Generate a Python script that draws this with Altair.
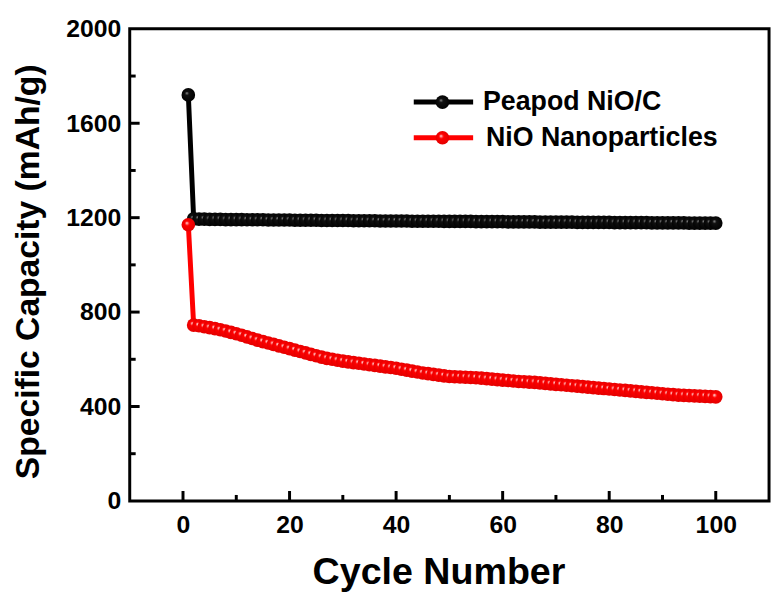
import altair as alt
import pandas as pd

cycles = list(range(1, 101))

peapod = [1720, 1195,
          1194, 1194, 1193, 1193, 1193, 1192, 1192, 1192,
          1192, 1191, 1191, 1191, 1191, 1190, 1190, 1190, 1190, 1190,
          1189, 1189, 1189, 1189, 1189, 1188, 1188, 1188, 1188, 1188,
          1188, 1187, 1187, 1187, 1187, 1187, 1186, 1186, 1186, 1186,
          1186, 1186, 1185, 1185, 1185, 1185, 1185, 1185, 1184, 1184,
          1184, 1184, 1184, 1184, 1183, 1183, 1183, 1183, 1183, 1183,
          1182, 1182, 1182, 1182, 1182, 1182, 1181, 1181, 1181, 1181,
          1181, 1181, 1181, 1180, 1180, 1180, 1180, 1180, 1180, 1180,
          1179, 1179, 1179, 1179, 1179, 1179, 1179, 1178, 1178, 1178,
          1178, 1178, 1178, 1178, 1177, 1177, 1177, 1177, 1177, 1177]

nano = [1170, 745,
        742, 738, 734, 730, 725, 720, 714, 708,
        702, 695, 688, 681, 675, 669, 663, 657, 651, 645,
        639, 633, 627, 621, 615, 609, 604, 600, 596, 592,
        589, 586, 583, 580, 577, 574, 571, 568, 565, 562,
        558, 554, 550, 546, 542, 539, 536, 533, 530, 527,
        526, 525, 524, 523, 522, 520, 518, 516, 514, 512,
        510, 508, 506, 505, 503, 502, 500, 498, 496, 494,
        492, 490, 488, 486, 484, 482, 480, 478, 476, 474,
        472, 470, 468, 466, 464, 462, 460, 458, 456, 454,
        452, 450, 448, 447, 446, 445, 444, 443, 442, 441]

series_names = ["Peapod NiO/C", "NiO Nanoparticles"]
x_major = [0, 20, 40, 60, 80, 100]
x_minor = [10, 30, 50, 70, 90]
y_major = [0, 400, 800, 1200, 1600, 2000]
y_minor = [200, 600, 1000, 1400, 1800]

W, H = 646, 477
FONT = "Liberation Sans"

df_black = pd.DataFrame({"cycle": cycles, "cap": peapod})
df_red = pd.DataFrame({"cycle": cycles, "cap": nano})

xscale = alt.Scale(domain=[-10, 110], nice=False, zero=False)
yscale = alt.Scale(domain=[0, 2000], nice=False)

X = alt.X("cycle:Q", scale=xscale,
          axis=alt.Axis(values=x_major, format="d", title="Cycle Number", ticks=False,
                        grid=False, domain=False, labelPadding=12, titlePadding=16,
                        titleFontSize=38, titleX=312))
Y = alt.Y("cap:Q", scale=yscale,
          axis=alt.Axis(values=y_major, format="d", title="Specific Capacity (mAh/g)",
                        ticks=False, grid=False, domain=False, labelPadding=9,
                        titlePadding=21, titleFontSize=34, titleY=245))


def sphere(c_hi, c_mid, c_edge, mid_off):
    return {"gradient": "radial", "x1": 0.38, "y1": 0.36, "r1": 0,
            "x2": 0.5, "y2": 0.5, "r2": 0.55,
            "stops": [{"offset": 0, "color": c_hi},
                      {"offset": mid_off, "color": c_mid},
                      {"offset": 1, "color": c_edge}]}


black_fill = sphere("#9a9a9a", "#111111", "#000000", 0.25)
red_fill = sphere("#fff0f0", "#ff0000", "#e00000", 0.3)

MS = 190

black_line = alt.Chart(df_black).mark_line(color="black", strokeWidth=5).encode(x=X, y=Y)
black_pts = alt.Chart(df_black).mark_circle(size=MS, opacity=1, fill=black_fill).encode(
    x="cycle:Q", y="cap:Q")
red_line = alt.Chart(df_red).mark_line(color="#ff0000", strokeWidth=5).encode(x="cycle:Q", y="cap:Q")
red_pts = alt.Chart(df_red).mark_circle(size=MS, opacity=1, fill=red_fill).encode(
    x="cycle:Q", y="cap:Q")

# inward ticks
dxM = pd.DataFrame({"v": x_major})
dxm = pd.DataFrame({"v": x_minor})
dyM = pd.DataFrame({"v": y_major[1:-1]})
dym = pd.DataFrame({"v": y_minor})
tick_style = dict(color="black", strokeWidth=3)
xt1 = alt.Chart(dxM).mark_rule(**tick_style).encode(x="v:Q", y=alt.value(H - 10), y2=alt.value(H))
xt2 = alt.Chart(dxm).mark_rule(**tick_style).encode(x="v:Q", y=alt.value(H - 6), y2=alt.value(H))
yt1 = alt.Chart(dyM).mark_rule(**tick_style).encode(y="v:Q", x=alt.value(0), x2=alt.value(10))
yt2 = alt.Chart(dym).mark_rule(**tick_style).encode(y="v:Q", x=alt.value(0), x2=alt.value(6))

# legend
leg_black = pd.DataFrame({"label": [series_names[0]]})
leg_red = pd.DataFrame({"label": [series_names[1]]})
lb_y, lr_y = 74, 110
lx1, lx2, lxm, ltx = 287, 347, 316, 357
leg = [
    alt.Chart(leg_black).mark_rule(color="black", strokeWidth=5).encode(
        x=alt.value(lx1), x2=alt.value(lx2), y=alt.value(lb_y)),
    alt.Chart(leg_black).mark_circle(size=MS, opacity=1, fill=black_fill).encode(
        x=alt.value(lxm), y=alt.value(lb_y)),
    alt.Chart(leg_black).mark_text(align="left", baseline="middle", font=FONT,
                                   fontWeight="bold", fontSize=27, color="black").encode(
        x=alt.value(ltx), y=alt.value(lb_y), text="label:N"),
    alt.Chart(leg_red).mark_rule(color="#ff0000", strokeWidth=5).encode(
        x=alt.value(lx1), x2=alt.value(lx2), y=alt.value(lr_y)),
    alt.Chart(leg_red).mark_circle(size=MS, opacity=1, fill=red_fill).encode(
        x=alt.value(lxm), y=alt.value(lr_y)),
    alt.Chart(leg_red).mark_text(align="left", baseline="middle", font=FONT,
                                 fontWeight="bold", fontSize=27, color="black").encode(
        x=alt.value(ltx + 3), y=alt.value(lr_y), text="label:N"),
]

chart = alt.layer(black_line, black_pts, red_line, red_pts, xt1, xt2, yt1, yt2, *leg).properties(
    width=W, height=H,
    background="white",
    autosize=alt.AutoSizeParams(type="none"),
    padding={"left": 123, "top": 18, "right": 4, "bottom": 90},
).configure_view(stroke="black", strokeWidth=3).configure_axis(
    labelFont=FONT, labelFontWeight="bold", labelFontSize=25, labelColor="black",
    titleFont=FONT, titleFontWeight="bold", titleColor="black",
)

chart.save("out.html", embed_options={"renderer": "svg", "actions": False})
